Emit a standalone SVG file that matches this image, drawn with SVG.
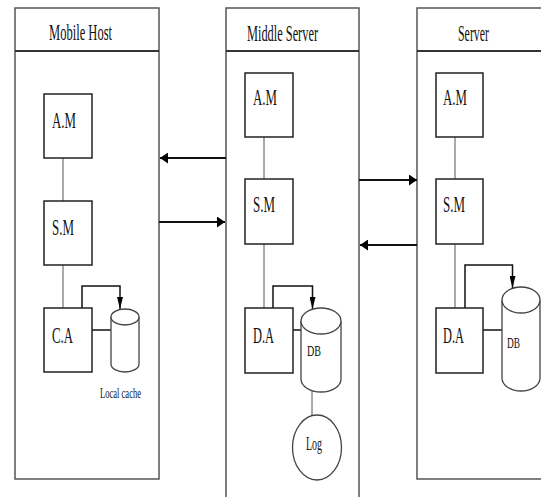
<svg xmlns="http://www.w3.org/2000/svg" width="541" height="497" viewBox="0 0 541 497">
<style>
.panel{fill:none;stroke:#555;stroke-width:1.5}
.hdr{fill:none;stroke:#333;stroke-width:2}
.box{fill:#fff;stroke:#222;stroke-width:1.5}
.link{fill:none;stroke:#555;stroke-width:1}
.flow{fill:none;stroke:#111;stroke-width:1.5}
.big{fill:none;stroke:#111;stroke-width:2}
.cyl{fill:#fff;stroke:#444;stroke-width:1.3}
text{font-family:"Liberation Serif","Times New Roman",serif;fill:#111}
.t{font-size:24px}
.s{font-size:15px}
</style>
<defs>
<marker id="ab" markerUnits="userSpaceOnUse" markerWidth="8" markerHeight="11" refX="8" refY="5.5" orient="auto"><path d="M0,0 L8,5.5 L0,11 z" fill="#000"/></marker>
<marker id="as" markerUnits="userSpaceOnUse" markerWidth="12" markerHeight="6" refX="12" refY="3" orient="auto"><path d="M0,0 L12,3 L0,6 z" fill="#000"/></marker>
</defs>

<g id="mobile-host">
<rect class="panel" x="15" y="8" width="144" height="471"/>
<line class="hdr" x1="15" y1="51" x2="159" y2="51"/>
<text class="t" x="49" y="40" textLength="63" lengthAdjust="spacingAndGlyphs">Mobile Host</text>
</g>
<g id="middle-server">
<path class="panel" d="M226,497 V8 H359 V497"/>
<line class="hdr" x1="226" y1="51" x2="359" y2="51"/>
<text class="t" x="247" y="41" textLength="71" lengthAdjust="spacingAndGlyphs">Middle Server</text>
</g>
<g id="server">
<path class="panel" d="M541,8 H417 V479 H541"/>
<line class="hdr" x1="417" y1="51" x2="541" y2="51"/>
<text class="t" x="458" y="41" textLength="31" lengthAdjust="spacingAndGlyphs">Server</text>
</g>

<g id="connectors">
<line class="link" x1="63" y1="158" x2="63" y2="201"/>
<line class="link" x1="63" y1="265" x2="63" y2="308"/>
<path class="flow" d="M82,308 V286 H120 V309" marker-end="url(#as)"/>
<line class="flow" x1="92" y1="330" x2="111" y2="330"/>
<line class="link" x1="264" y1="137" x2="264" y2="179"/>
<line class="link" x1="264" y1="244" x2="264" y2="308"/>
<path class="flow" d="M273,308 V286 H312.5 V309" marker-end="url(#as)"/>
<line class="flow" x1="293" y1="330" x2="301" y2="330"/>
<line class="link" x1="312" y1="390" x2="312" y2="415"/>
<line class="link" x1="455" y1="137" x2="455" y2="179"/>
<line class="link" x1="455" y1="244" x2="455" y2="308"/>
<path class="flow" d="M465,308 V265 H512.5 V288" marker-end="url(#as)"/>
<line class="flow" x1="483" y1="330" x2="502" y2="330"/>
<line class="big" x1="226" y1="158" x2="160" y2="158" marker-end="url(#ab)"/>
<line class="big" x1="159" y1="222" x2="225" y2="222" marker-end="url(#ab)"/>
<line class="big" x1="359" y1="180" x2="417" y2="180" marker-end="url(#ab)"/>
<line class="big" x1="417" y1="245" x2="360" y2="245" marker-end="url(#ab)"/>
</g>

<g id="mh-am"><rect class="box" x="44" y="94" width="48" height="64"/><text class="t" x="52" y="128" textLength="24" lengthAdjust="spacingAndGlyphs">A.M</text></g>
<g id="mh-sm"><rect class="box" x="44" y="201" width="48" height="64"/><text class="t" x="52" y="235" textLength="22" lengthAdjust="spacingAndGlyphs">S.M</text></g>
<g id="mh-ca"><rect class="box" x="44" y="308" width="48" height="64"/><text class="t" x="52" y="343" textLength="21" lengthAdjust="spacingAndGlyphs">C.A</text></g>
<g id="mh-cache">
<path class="cyl" d="M111,317 V364 A14,8 0 0 0 139,364 V317"/>
<ellipse class="cyl" cx="125" cy="317" rx="14" ry="8"/>
<text x="100" y="398" font-size="14" fill="#000" textLength="41" lengthAdjust="spacingAndGlyphs">Local cache</text>
</g>

<g id="ms-am"><rect class="box" x="245" y="73" width="48" height="64"/><text class="t" x="253" y="105" textLength="24" lengthAdjust="spacingAndGlyphs">A.M</text></g>
<g id="ms-sm"><rect class="box" x="245" y="179" width="48" height="65"/><text class="t" x="253" y="212" textLength="22" lengthAdjust="spacingAndGlyphs">S.M</text></g>
<g id="ms-da"><rect class="box" x="245" y="308" width="48" height="65"/><text class="t" x="253" y="343" textLength="21" lengthAdjust="spacingAndGlyphs">D.A</text></g>
<g id="ms-db">
<path class="cyl" d="M301,321 V379 A20,13 0 0 0 341,379 V321"/>
<ellipse class="cyl" cx="321" cy="321" rx="20" ry="13"/>
<text class="s" x="307" y="356" textLength="14" lengthAdjust="spacingAndGlyphs">DB</text>
</g>
<g id="ms-log">
<ellipse class="cyl" cx="317" cy="447.5" rx="24.5" ry="32.5"/>
<text x="306" y="450" font-size="18" textLength="16" lengthAdjust="spacingAndGlyphs">Log</text>
</g>

<g id="sv-am"><rect class="box" x="436" y="73" width="47" height="64"/><text class="t" x="443" y="105" textLength="24" lengthAdjust="spacingAndGlyphs">A.M</text></g>
<g id="sv-sm"><rect class="box" x="436" y="179" width="47" height="65"/><text class="t" x="443" y="212" textLength="22" lengthAdjust="spacingAndGlyphs">S.M</text></g>
<g id="sv-da"><rect class="box" x="436" y="308" width="47" height="65"/><text class="t" x="443" y="343" textLength="21" lengthAdjust="spacingAndGlyphs">D.A</text></g>
<g id="sv-db">
<path class="cyl" d="M502,300 V378 A19,13 0 0 0 540,378 V300"/>
<ellipse class="cyl" cx="521" cy="300" rx="19" ry="13"/>
<text class="s" x="507" y="348" textLength="13" lengthAdjust="spacingAndGlyphs">DB</text>
</g>
</svg>
